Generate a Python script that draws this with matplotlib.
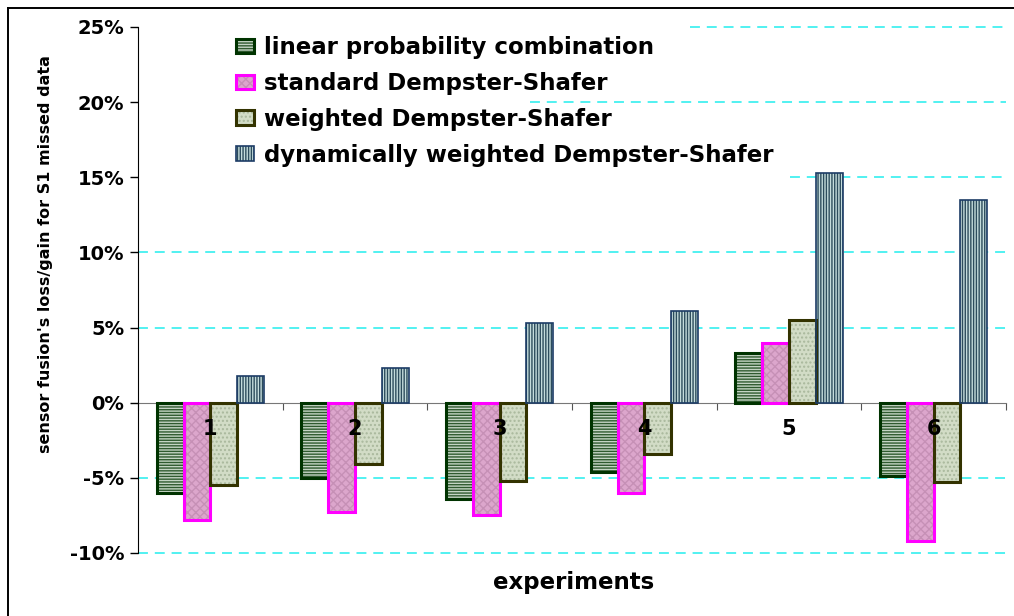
import matplotlib
matplotlib.use("Agg")
import matplotlib.pyplot as plt
from matplotlib.patches import Patch
from matplotlib.legend_handler import HandlerTuple
from matplotlib.lines import Line2D
import numpy as np

experiments = ["1", "2", "3", "4", "5", "6"]
series_names = [
    "linear probability combination",
    "standard Dempster-Shafer",
    "weighted Dempster-Shafer",
    "dynamically weighted Dempster-Shafer",
]
linear_prob = [-6.0, -5.0, -6.4, -4.6, 3.3, -4.9]
standard_ds = [-7.8, -7.3, -7.5, -6.0, 4.0, -9.2]
weighted_ds = [-5.5, -4.1, -5.2, -3.4, 5.5, -5.3]
dynamic_ds = [1.8, 2.3, 5.3, 6.1, 15.3, 13.5]
y_ticks = [-10, -5, 0, 5, 10, 15, 20, 25]

# face colour, hatch colour, hatch pattern, outline colour, outline width
styles = [
    ("#c4d4c4", "#2f5a2f", "------", "#003300", 2.2),
    ("#dca6cc", "#c690b6", "xxxx", "#ff00ff", 2.2),
    ("#d2dcc6", "#a9b89c", "....", "#333300", 2.2),
    ("#c4dcdc", "#2c4c5c", "||||||", "#1c3c66", 1.2),
]
values = [linear_prob, standard_ds, weighted_ds, dynamic_ds]

# gridlines near the legend start to the right of it (axes fraction)
grid_start = {25: 0.636, 20: 0.452, 15: 0.751}

plt.rcParams["font.family"] = ["DejaVu Sans"]
plt.rcParams["font.weight"] = "bold"
plt.rcParams["hatch.linewidth"] = 1.0

fig = plt.figure(figsize=(10.14, 6.16), dpi=100)
ax = fig.add_axes([138 / 1014, 1 - 553 / 616, (1006 - 138) / 1014, (553 - 27) / 616])

x = np.arange(len(experiments))
width = 0.185
handles = []
for i, (vals, st) in enumerate(zip(values, styles)):
    face, hcol, hatch, ecol, lw = st
    pos = x + (i - 1.5) * width
    with plt.rc_context({"hatch.color": hcol}):
        ax.bar(pos, vals, width, color=face, hatch=hatch, linewidth=0, zorder=3)
        fill_proxy = Patch(facecolor=face, hatch=hatch, linewidth=0)
    ax.bar(pos, vals, width, fill=False, edgecolor=ecol, linewidth=lw, zorder=4)
    edge_proxy = Patch(fill=False, edgecolor=ecol, linewidth=lw)
    handles.append((fill_proxy, edge_proxy))

ax.set_xlim(-0.5, len(experiments) - 0.5)
ax.set_ylim(-10, 25)
ax.set_yticks(y_ticks)
ax.set_yticklabels([f"{t}%" for t in y_ticks], fontsize=14, fontweight="bold")
ax.tick_params(axis="y", direction="out", length=6, width=1, pad=4)

# gridlines at every 5% except the zero line
for t in y_ticks:
    if t != 0:
        ax.axhline(t, xmin=grid_start.get(t, 0.0), xmax=1.0, color="#22eeee",
                   linewidth=1.1, linestyle=(0, (6.5, 4.5)), zorder=1, clip_on=False)

# category axis sits on the zero line
ax.spines["bottom"].set_position(("data", 0))
ax.spines["bottom"].set_color("#777777")
ax.spines["bottom"].set_zorder(2)
ax.spines["top"].set_visible(False)
ax.spines["right"].set_visible(False)
ax.set_xticks(np.arange(len(experiments) + 1) - 0.5)
ax.set_xticklabels([])
ax.tick_params(axis="x", direction="out", length=5, color="#555555")
for xi, lab in zip(x, experiments):
    ax.annotate(lab, (xi, 0), xytext=(0, -19), textcoords="offset points",
                ha="center", va="center", fontsize=15, fontweight="bold", zorder=5)

leg = ax.legend(handles, series_names, handler_map={tuple: HandlerTuple(ndivide=1)},
                loc="upper left", bbox_to_anchor=(0.1025, 1.0), frameon=False,
                prop={"weight": "bold", "size": 16.5},
                handlelength=0.8, handleheight=0.6, handletextpad=0.4,
                labelspacing=0.56, borderpad=0.4, borderaxespad=0.0)
leg.set_zorder(2.5)

fig.text(574 / 1014, 1 - 582 / 616, "experiments", ha="center", va="center",
         fontsize=16.5, fontweight="bold")
fig.text(46 / 1014, 1 - 254 / 616, "sensor fusion's loss/gain for S1 missed data",
         rotation=90, ha="center", va="center", fontsize=11.5, fontweight="bold")

# outer frame on left and top
fig.add_artist(Line2D([8 / 1014, 8 / 1014], [0, 1 - 8 / 616], color="black", linewidth=1.4,
                      transform=fig.transFigure))
fig.add_artist(Line2D([8 / 1014, 1], [1 - 8 / 616, 1 - 8 / 616], color="black", linewidth=1.4,
                      transform=fig.transFigure))

fig.savefig("out.png", dpi=100, facecolor="white")
